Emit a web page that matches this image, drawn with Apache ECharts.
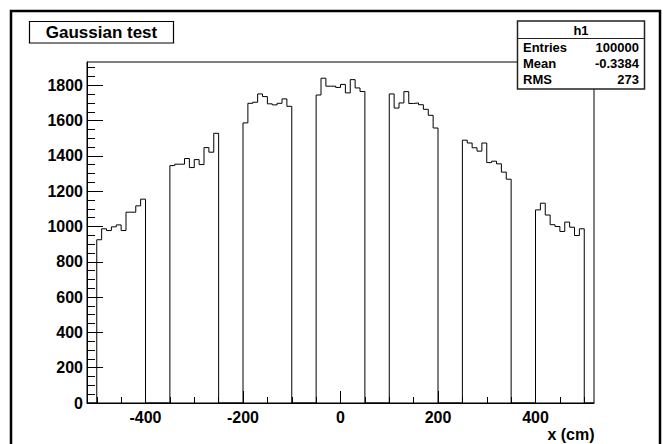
<!DOCTYPE html>
<html>
<head>
<meta charset="utf-8">
<script src="https://cdn.jsdelivr.net/npm/echarts@6/dist/echarts.min.js"></script>
<style>
  html, body { margin: 0; padding: 0; background: #fff; }
  #chart { width: 663px; height: 444px; }
</style>
</head>
<body>
<div id="chart"></div>
<script>
// ---- data (bin width 10 cm) ----
const binWidth = 10;
const segmentStarts = [-500, -350, -200, -50, 100, 250, 400];
const seg1 = [925, 987, 977, 998, 1009, 977, 1081, 1081, 1117, 1155];
const seg2 = [1345, 1353, 1353, 1385, 1334, 1379, 1351, 1447, 1421, 1528];
const seg3 = [1587, 1698, 1704, 1751, 1736, 1695, 1689, 1698, 1723, 1681];
const seg4 = [1745, 1840, 1795, 1795, 1788, 1805, 1757, 1832, 1785, 1765];
const seg5 = [1751, 1671, 1700, 1764, 1697, 1700, 1690, 1664, 1630, 1558];
const seg6 = [1489, 1473, 1446, 1427, 1473, 1362, 1370, 1355, 1308, 1268];
const seg7 = [1094, 1132, 1065, 1010, 1000, 972, 1025, 996, 949, 987];
const segments = [seg1, seg2, seg3, seg4, seg5, seg6, seg7];

const xMin = -520, xMax = 520;
const yMin = 0, yMax = 1932;
const xTickLabels = [-400, -200, 0, 200, 400];
const yTickLabels = [0, 200, 400, 600, 800, 1000, 1200, 1400, 1600, 1800];
const xMinorTicks = [-500, -450, -400, -350, -300, -250, -200, -150, -100, -50, 0,
                     50, 100, 150, 200, 250, 300, 350, 400, 450, 500];
const yMinorTicks = [];
for (let v = 0; v <= 1900; v += 50) yMinorTicks.push(v);

const histTitle = 'Gaussian test';
const statsName = 'h1';
const statsRows = [['Entries', '100000'], ['Mean', '-0.3384'], ['RMS', '273']];
const xTitle = 'x (cm)';

// ---- build step outline from the bins ----
const outline = [[xMin, 0]];
segments.forEach((vals, s) => {
  const start = segmentStarts[s];
  outline.push([start, 0]);
  vals.forEach((v, i) => {
    outline.push([start + i * binWidth, v]);
    outline.push([start + (i + 1) * binWidth, v]);
  });
  outline.push([start + vals.length * binWidth, 0]);
});
outline.push([xMax, 0]);

const FONT = '"Liberation Sans", Arial, Helvetica, sans-serif';
const lab = { fontFamily: FONT, fontWeight: 'bold', color: '#000',
              formatter: (v) => String(v) };

const chart = echarts.init(document.getElementById('chart'), null, { renderer: 'svg' });
const option = {
  animation: false,
  backgroundColor: '#fff',
  grid: { left: 87, top: 62, width: 507, height: 341, show: true,
          borderColor: '#000', borderWidth: 1, backgroundColor: 'transparent' },
  xAxis: [
    { type: 'value', min: xMin, max: xMax, position: 'bottom',
      axisLine: { show: true, onZero: false, lineStyle: { color: '#000', width: 1 } },
      axisTick: { show: true, inside: true, length: 12, customValues: xTickLabels,
                  lineStyle: { color: '#000', width: 1 } },
      axisLabel: Object.assign({ customValues: xTickLabels, margin: 6, fontSize: 16 }, lab),
      splitLine: { show: false } },
    { type: 'value', min: xMin, max: xMax, position: 'bottom',
      axisLine: { show: false, onZero: false },
      axisTick: { show: true, inside: true, length: 6, customValues: xMinorTicks,
                  lineStyle: { color: '#000', width: 1 } },
      axisLabel: { show: false }, splitLine: { show: false } }
  ],
  yAxis: [
    { type: 'value', min: yMin, max: yMax, position: 'left',
      axisLine: { show: true, onZero: false, lineStyle: { color: '#000', width: 1 } },
      axisTick: { show: true, inside: true, length: 16, customValues: yTickLabels,
                  lineStyle: { color: '#000', width: 1 } },
      axisLabel: Object.assign({ customValues: yTickLabels, margin: 4, fontSize: 16 }, lab),
      splitLine: { show: false } },
    { type: 'value', min: yMin, max: yMax, position: 'left',
      axisLine: { show: false, onZero: false },
      axisTick: { show: true, inside: true, length: 8, customValues: yMinorTicks,
                  lineStyle: { color: '#000', width: 1 } },
      axisLabel: { show: false }, splitLine: { show: false } }
  ],
  series: [{
    type: 'line', xAxisIndex: 0, yAxisIndex: 0, data: outline,
    symbol: 'none', silent: true,
    lineStyle: { color: '#000', width: 1 }
  }],
  graphic: [
    { type: 'rect', z: 50, silent: true,
      shape: { x: 11, y: 11, width: 649, height: 460 },
      style: { fill: 'none', stroke: '#000', lineWidth: 2.5 } },
    { type: 'rect', z: 60, silent: true,
      shape: { x: 29.5, y: 21.5, width: 144, height: 21.5 },
      style: { fill: '#fff', stroke: '#000', lineWidth: 1.2 } },
    { type: 'text', z: 61, silent: true, x: 101.5, y: 32.5,
      style: { text: histTitle, font: 'bold 17px ' + FONT, fill: '#000',
               align: 'center', verticalAlign: 'middle' } },
    { type: 'rect', z: 60, silent: true,
      shape: { x: 517.5, y: 21, width: 127, height: 68 },
      style: { fill: '#fff', stroke: '#222', lineWidth: 1.5 } },
    { type: 'line', z: 61, silent: true,
      shape: { x1: 517.5, y1: 38.5, x2: 644.5, y2: 38.5 },
      style: { stroke: '#222', lineWidth: 1.2 } },
    { type: 'text', z: 61, silent: true, x: 581, y: 30.5,
      style: { text: statsName, font: 'bold 13px ' + FONT, fill: '#000',
               align: 'center', verticalAlign: 'middle' } },
    ...statsRows.flatMap((r, i) => [
      { type: 'text', z: 61, silent: true, x: 523, y: 47.5 + i * 16.2,
        style: { text: r[0], font: 'bold 13px ' + FONT, fill: '#000',
                 align: 'left', verticalAlign: 'middle' } },
      { type: 'text', z: 61, silent: true, x: 639, y: 47.5 + i * 16.2,
        style: { text: r[1], font: 'bold 13px ' + FONT, fill: '#000',
                 align: 'right', verticalAlign: 'middle' } }
    ]),
    { type: 'text', z: 61, silent: true, x: 594.5, y: 434.5,
      style: { text: xTitle, font: 'bold 16px ' + FONT, fill: '#000',
               align: 'right', verticalAlign: 'middle' } }
  ]
};
chart.setOption(option);
</script>
</body>
</html>
